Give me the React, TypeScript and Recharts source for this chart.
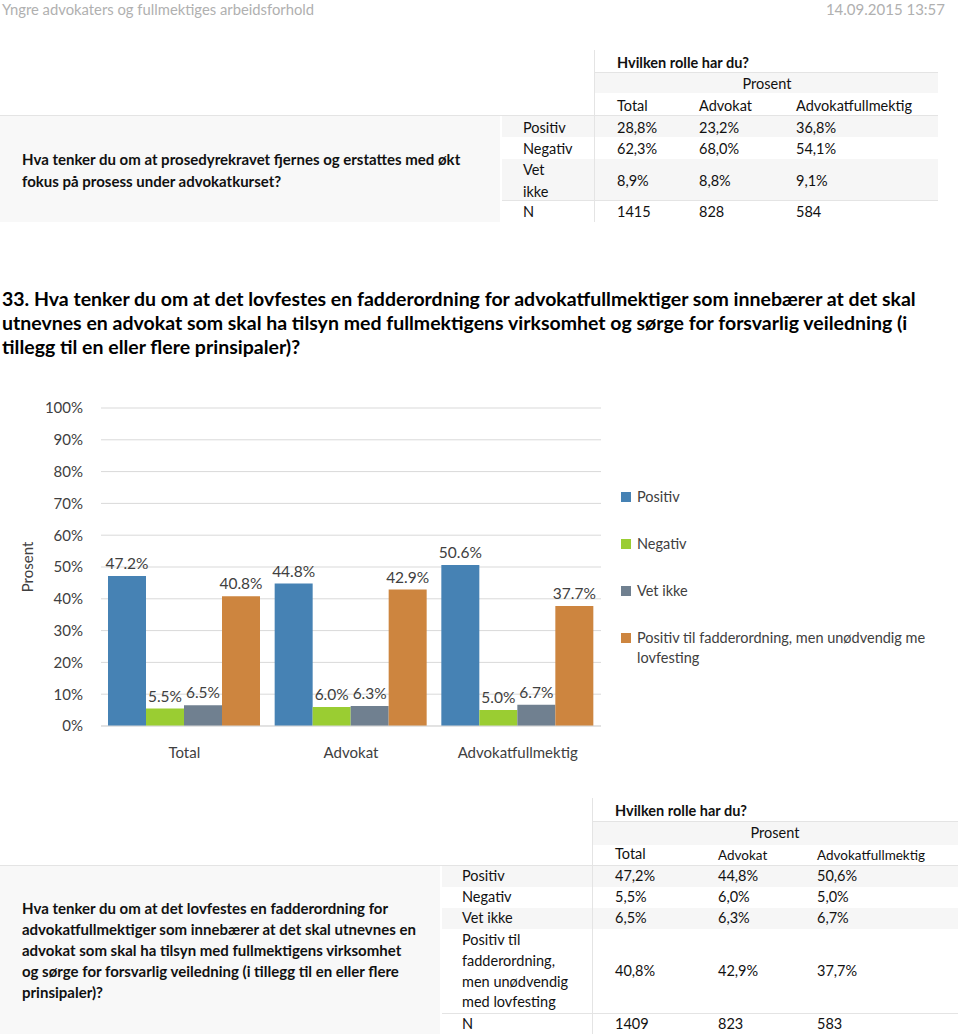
import React from "react";
import { Bar, BarChart, CartesianGrid, LabelList, Legend, XAxis, YAxis } from "recharts";

const FONT = "Lato, 'Open Sans', sans-serif";

// chart data (question 33)
const categories = ["Total", "Advokat", "Advokatfullmektig"];
const positiv = [47.2, 44.8, 50.6];
const negativ = [5.5, 6.0, 5.0];
const vetIkke = [6.5, 6.3, 6.7];
const positivTil = [40.8, 42.9, 37.7];
const yTicks = [0, 10, 20, 30, 40, 50, 60, 70, 80, 90, 100];
const seriesKeys = ["positiv", "negativ", "vetIkke", "positivTil"];
const seriesNames = [
  "Positiv",
  "Negativ",
  "Vet ikke",
  "Positiv til fadderordning, men unødvendig me lovfesting",
];
const seriesColors = ["#4682b4", "#9acd32", "#708090", "#cd853f"];

// table above (question 32)
const roles = ["Total", "Advokat", "Advokatfullmektig"];
const q32Positiv = ["28,8%", "23,2%", "36,8%"];
const q32Negativ = ["62,3%", "68,0%", "54,1%"];
const q32VetIkke = ["8,9%", "8,8%", "9,1%"];
const q32N = ["1415", "828", "584"];

// table below (question 33)
const q33Positiv = ["47,2%", "44,8%", "50,6%"];
const q33Negativ = ["5,5%", "6,0%", "5,0%"];
const q33VetIkke = ["6,5%", "6,3%", "6,7%"];
const q33PositivTil = ["40,8%", "42,9%", "37,7%"];
const q33N = ["1409", "823", "583"];

const chartData = categories.map((c, i) => ({
  name: c,
  positiv: positiv[i],
  negativ: negativ[i],
  vetIkke: vetIkke[i],
  positivTil: positivTil[i],
}));

function T({
  x,
  y,
  children,
  size = 14.5,
  bold = false,
  color = "#111",
  center = false,
}: any) {
  const lh = Math.round(size * 1.4);
  return (
    <div
      style={{
        position: "absolute",
        left: x,
        top: y - lh / 2,
        fontSize: size,
        lineHeight: `${lh}px`,
        fontWeight: bold ? 700 : 400,
        color,
        whiteSpace: "nowrap",
        transform: center ? "translateX(-50%)" : undefined,
      }}
    >
      {children}
    </div>
  );
}

function Box({ x, y, w, h, bg }: any) {
  return <div style={{ position: "absolute", left: x, top: y, width: w, height: h, background: bg }} />;
}

const LINE = "#e4e4e4";
const SHADE = "#f6f6f6";

function ChartLegend({ payload }: any) {
  const items = [...(payload || [])].sort(
    (a: any, b: any) => seriesNames.indexOf(a.value) - seriesNames.indexOf(b.value)
  );
  return (
    <div style={{ fontFamily: FONT, fontSize: 14.5, color: "#404040" }}>
      {items.map((p: any, i: number) => (
        <div key={i} style={{ display: "flex", alignItems: "flex-start", marginBottom: 27, lineHeight: "20px" }}>
          <span
            style={{
              display: "inline-block",
              width: 10,
              height: 10,
              marginTop: 5,
              marginRight: 6,
              background: p.color,
              flex: "0 0 auto",
            }}
          />
          <span style={{ width: 300 }}>{p.value}</span>
        </div>
      ))}
    </div>
  );
}

function YLabel({ viewBox }: any) {
  const cx = viewBox.x + 19;
  const cy = viewBox.y + viewBox.height / 2;
  return (
    <text
      x={cx}
      y={cy}
      transform={`rotate(-90 ${cx} ${cy})`}
      textAnchor="middle"
      dominantBaseline="central"
      fontSize={15}
      fill="#404040"
      fontFamily={FONT}
    >
      Prosent
    </text>
  );
}

export default function App() {
  const lbl = (v: any) => `${Number(v).toFixed(1)}%`;
  return (
    <div
      style={{
        position: "absolute",
        left: 0,
        top: 0,
        width: 960,
        height: 1034,
        background: "#fff",
        fontFamily: FONT,
        overflow: "hidden",
      }}
    >
      {/* page header */}
      <T x={2} y={9} size={14.8} color="#b0b0b0">Yngre advokaters og fullmektiges arbeidsforhold</T>
      <div style={{ position: "absolute", right: 15, top: -1, fontSize: 15, lineHeight: "21px", color: "#b0b0b0" }}>
        14.09.2015 13:57
      </div>

      {/* table: question 32 */}
      <Box x={594} y={72} w={344} h={21} bg={SHADE} />
      <Box x={0} y={116} w={500} h={106} bg={"#f8f8f8"} />
      <Box x={502} y={116} w={436} h={21} bg={SHADE} />
      <Box x={502} y={159} w={436} h={41} bg={SHADE} />
      <Box x={594} y={50} w={1} h={172} bg={LINE} />
      <Box x={594} y={72} w={344} h={1} bg={LINE} />
      <Box x={0} y={115} w={938} h={1} bg={LINE} />
      <Box x={502} y={200} w={436} h={1} bg={LINE} />
      <T x={617} y={63} bold>Hvilken rolle har du?</T>
      <T x={767} y={84} center>Prosent</T>
      {roles.map((r, i) => (
        <T key={r} x={[617, 699, 796][i]} y={106}>{r}</T>
      ))}
      <T x={22} y={159} bold size={15}>Hva tenker du om at prosedyrekravet fjernes og erstattes med økt</T>
      <T x={22} y={181} bold size={15}>fokus på prosess under advokatkurset?</T>
      <T x={523} y={128}>Positiv</T>
      <T x={523} y={149}>Negativ</T>
      <T x={523} y={170}>Vet</T>
      <T x={523} y={192}>ikke</T>
      <T x={523} y={212}>N</T>
      {[q32Positiv, q32Negativ, q32VetIkke, q32N].map((row, r) =>
        row.map((v, i) => (
          <T key={`${r}-${i}`} x={[617, 699, 796][i]} y={[128, 149, 181, 212][r]}>{v}</T>
        ))
      )}

      {/* title */}
      {[
        "33. Hva tenker du om at det lovfestes en fadderordning for advokatfullmektiger som innebærer at det skal",
        "utnevnes en advokat som skal ha tilsyn med fullmektigens virksomhet og sørge for forsvarlig veiledning (i",
        "tillegg til en eller flere prinsipaler)?",
      ].map((s, i) => (
        <T key={`t${i}`} x={2} y={298 + i * 24} bold size={19.5} color="#000">{s}</T>
      ))}

      {/* chart */}
      <div style={{ position: "absolute", left: 0, top: 390 }}>
        <BarChart
          width={960}
          height={380}
          data={chartData}
          margin={{ top: 18, right: 359, left: 8, bottom: 14 }}
          barCategoryGap={7}
          barGap={0}
        >
          <CartesianGrid horizontal vertical={false} stroke="#d9d9d9" />
          <XAxis
            dataKey="name"
            tickLine={false}
            axisLine={{ stroke: "#d9d9d9" }}
            height={30}
            tickMargin={15}
            tick={{ fill: "#404040", fontSize: 15, fontFamily: FONT }}
            interval={0}
          />
          <YAxis
            domain={[0, 100]}
            ticks={yTicks}
            width={93}
            tickLine={false}
            axisLine={false}
            tickMargin={12}
            tickFormatter={(v) => `${v}%`}
            tick={{ fill: "#404040", fontSize: 15, fontFamily: FONT }}
            label={{ content: YLabel }}
          />
          <Legend
            layout="horizontal"
            verticalAlign="middle"
            align="center"
            content={<ChartLegend />}
            wrapperStyle={{ left: 621, top: 97, width: 330 }}
          />
          {seriesKeys.map((k, i) => (
            <Bar key={k} dataKey={k} name={seriesNames[i]} fill={seriesColors[i]} isAnimationActive={false}>
              <LabelList
                dataKey={k}
                position="top"
                offset={7}
                formatter={lbl}
                fill="#404040"
                fontSize={15.5}
                fontFamily={FONT}
              />
            </Bar>
          ))}
        </BarChart>
      </div>

      {/* table: question 33 */}
      <Box x={592} y={821} w={366} h={24} bg={SHADE} />
      <Box x={0} y={866} w={440} h={168} bg={"#f8f8f8"} />
      <Box x={442} y={866} w={516} h={21} bg={SHADE} />
      <Box x={442} y={908} w={516} h={21} bg={SHADE} />
      <Box x={592} y={798} w={1} h={236} bg={LINE} />
      <Box x={592} y={821} w={366} h={1} bg={LINE} />
      <Box x={0} y={865} w={958} h={1} bg={LINE} />
      <Box x={442} y={1013} w={516} h={1} bg={LINE} />
      <T x={615} y={811} bold>Hvilken rolle har du?</T>
      <T x={775} y={833} center>Prosent</T>
      <T x={615} y={854}>Total</T>
      <T x={718} y={855} size={13.5}>Advokat</T>
      <T x={817} y={855} size={13.5}>Advokatfullmektig</T>
      {[
        "Hva tenker du om at det lovfestes en fadderordning for",
        "advokatfullmektiger som innebærer at det skal utnevnes en",
        "advokat som skal ha tilsyn med fullmektigens virksomhet",
        "og sørge for forsvarlig veiledning (i tillegg til en eller flere",
        "prinsipaler)?",
      ].map((s, i) => (
        <T key={i} x={22} y={908 + i * 21} bold size={15}>{s}</T>
      ))}
      <T x={462} y={876}>Positiv</T>
      <T x={462} y={897}>Negativ</T>
      <T x={462} y={918}>Vet ikke</T>
      <T x={462} y={940}>Positiv til</T>
      <T x={462} y={961}>fadderordning,</T>
      <T x={462} y={982}>men unødvendig</T>
      <T x={462} y={1002}>med lovfesting</T>
      <T x={462} y={1024}>N</T>
      {[q33Positiv, q33Negativ, q33VetIkke, q33PositivTil, q33N].map((row, r) =>
        row.map((v, i) => (
          <T key={`b${r}-${i}`} x={[615, 718, 817][i]} y={[876, 897, 918, 971, 1024][r]}>{v}</T>
        ))
      )}
    </div>
  );
}
